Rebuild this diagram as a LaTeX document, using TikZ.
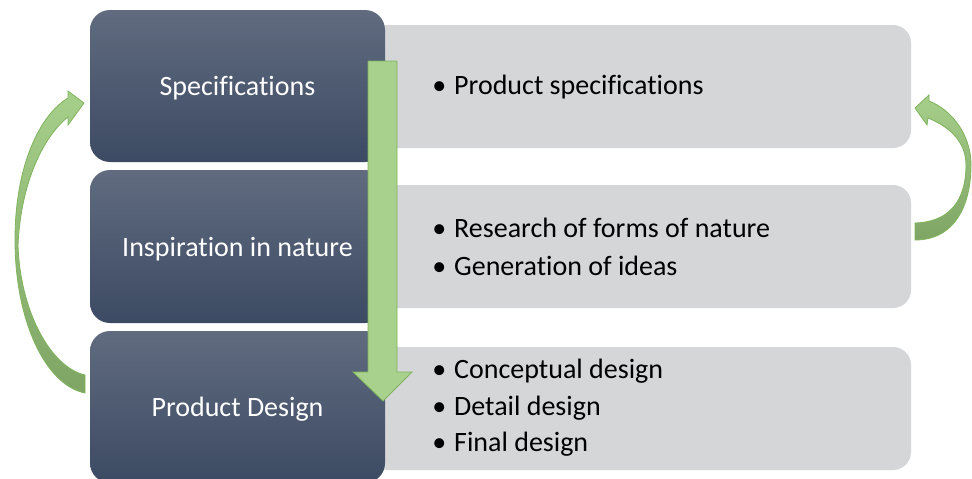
\documentclass[tikz,border=0pt]{standalone}
\usepackage{fontspec}
\setmainfont[Ligatures=NoCommon]{Carlito}
\definecolor{darktop}{HTML}{606B7F}
\definecolor{darkbot}{HTML}{3C4A63}
\definecolor{boxgray}{HTML}{D5D6D8}
\definecolor{arrowgreen}{HTML}{A9D18E}
\definecolor{arrowedge}{HTML}{7FB45C}
\definecolor{curvetop}{HTML}{A6CF8A}
\definecolor{curvebot}{HTML}{7FA565}
\tikzset{
  graybox/.style={fill=boxgray, rounded corners=18pt, draw=none},
  darkbox/.style={top color=darktop, bottom color=darkbot, rounded corners=20pt, draw=none,
    text=white, font=\fontsize{28}{34}\selectfont, text height=19pt, text depth=0pt, inner sep=0pt},
  itemtext/.style={anchor=base west, inner sep=0pt, text=black, font=\fontsize{28}{34}\selectfont},
  blockarrow/.style={fill=arrowgreen, draw=arrowedge, line width=0.8pt, line join=miter},
  curvearrow/.style={top color=curvetop, bottom color=curvebot, draw=arrowedge, line width=0.8pt, line join=miter}
}
\newcommand{\bul}{\llap{\textbullet\hspace{8pt}}}
\begin{document}
\begin{tikzpicture}[x=1pt,y=-1pt]
\clip (0,0) rectangle (972,479);
\fill[white] (0,0) rectangle (972,479);

% gray content boxes
\node[graybox, minimum width=541pt, minimum height=123pt] (g1) at (640.5,86.5) {};
\node[graybox, minimum width=541pt, minimum height=123pt] (g2) at (640.5,246.5) {};
\node[graybox, minimum width=541pt, minimum height=123pt] (g3) at (640.5,408.5) {};

% dark title boxes
\node[darkbox, minimum width=295pt, minimum height=152pt] (spec) at (237.5,86) {Specifications};
\node[darkbox, minimum width=295pt, minimum height=153pt] (insp) at (237.5,246.5) {Inspiration in nature};
\node[darkbox, minimum width=295pt, minimum height=152pt] (design) at (237.5,407) {Product Design};

% bullet texts
\node[itemtext] (t1) at (454,94) {\bul Product specifications};
\node[itemtext] (t2) at (454,237.5) {\bul Research of forms of nature};
\node[itemtext] (t3) at (454,275) {\bul Generation of ideas};
\node[itemtext] (t4) at (454,378) {\bul Conceptual design};
\node[itemtext] (t5) at (454,415) {\bul Detail design};
\node[itemtext] (t6) at (454,451) {\bul Final design};

% down block arrow
\draw[blockarrow] (368,61) -- (397,61) -- (397,372) -- (412,372) -- (383,401) -- (353,372) -- (368,372) -- cycle;

% left curved arrow (Product Design -> Specifications)
\draw[curvearrow] (68,98) .. controls (40,115) and (15,165) .. (15,240)
  .. controls (15,320) and (45,385) .. (85,393) -- (85,375)
  .. controls (50,367) and (20,310) .. (18,245)
  .. controls (21,180) and (45,135) .. (68,117)
  -- (68,125) -- (84,103) -- (68,91) -- cycle;

% right curved arrow
\draw[curvearrow] (915,240) .. controls (955,240) and (971,205) .. (971,165)
  .. controls (971,135) and (952,110) .. (929,101) -- (929,95) -- (915,108) -- (927,125) -- (928,118)
  .. controls (950,127) and (966,142) .. (966,165)
  .. controls (966,200) and (950,222) .. (915,223) -- cycle;
\end{tikzpicture}
\end{document}
